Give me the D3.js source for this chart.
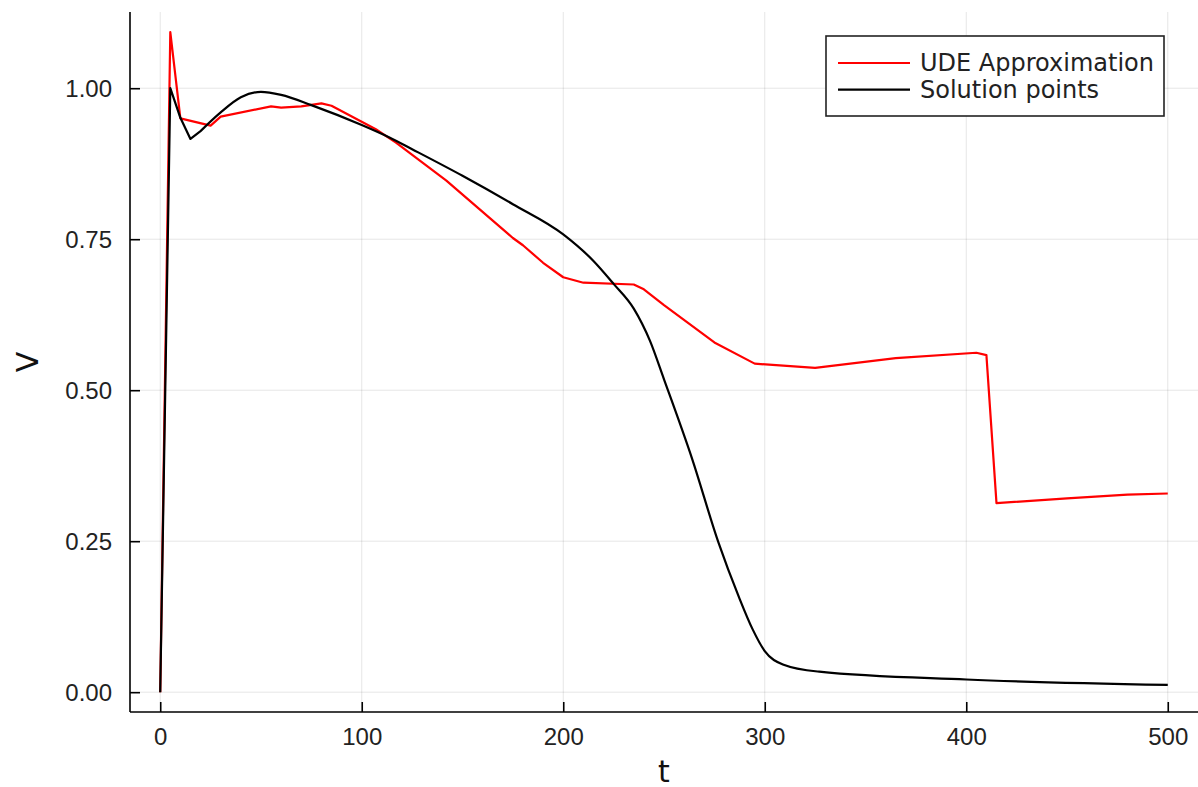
<!DOCTYPE html>
<html>
<head>
<meta charset="utf-8">
<script src="https://cdn.jsdelivr.net/npm/d3@7"></script>
<style>
  body { margin: 0; background: #fff; }
  svg { display: block; font-family: "DejaVu Sans", sans-serif; }
</style>
</head>
<body>
<svg id="chart" width="1198" height="787"></svg>
<script>
// UDE approximation (red)
var udeT = [0, 5, 10, 25, 30, 55, 60, 70, 80, 85, 107, 117, 142, 175, 180, 190, 200, 210, 235, 240, 250, 275, 295, 325, 365, 405, 410, 415, 450, 480, 500];
var udeV = [0, 1.093, 0.950, 0.938, 0.953, 0.970, 0.968, 0.970, 0.975, 0.971, 0.932, 0.910, 0.847, 0.752, 0.740, 0.711, 0.687, 0.678, 0.675, 0.667, 0.641, 0.579, 0.544, 0.537, 0.553, 0.562, 0.558, 0.313, 0.321, 0.327, 0.329];

// solution points (black)
var solT = [0, 5, 10, 15, 20, 30, 40, 50, 60, 75, 100, 114, 125, 150, 175, 200, 215, 225, 235, 243, 250, 264, 277, 287, 294, 300, 309, 327, 400, 500];
var solV = [0, 1.000, 0.951, 0.916, 0.929, 0.960, 0.985, 0.994, 0.989, 0.972, 0.939, 0.918, 0.899, 0.855, 0.808, 0.758, 0.714, 0.676, 0.635, 0.582, 0.518, 0.386, 0.248, 0.159, 0.104, 0.068, 0.046, 0.034, 0.021, 0.012];

var xTicks = [0, 100, 200, 300, 400, 500];
var yTicks = [0, 0.25, 0.5, 0.75, 1.0];
var seriesNames = ["UDE Approximation", "Solution points"];
var seriesColors = ["#ff0000", "#000000"];

function main() {
    var svg = d3.select("#chart");
    var left = 130, right = 1198, top = 12, bottom = 712;

    var x = d3.scaleLinear().domain([-15, 515]).range([left, right]);
    var y = d3.scaleLinear().domain([-0.0328, 1.1262]).range([bottom, top]);

    // grid lines
    var grid = svg.append("g");
    grid.selectAll(".gx").data(xTicks).enter().append("line")
        .attr("x1", function(d) { return x(d); })
        .attr("x2", function(d) { return x(d); })
        .attr("y1", top).attr("y2", bottom)
        .attr("stroke", "#000").attr("stroke-opacity", 0.1).attr("stroke-width", 1);
    grid.selectAll(".gy").data(yTicks).enter().append("line")
        .attr("y1", function(d) { return y(d); })
        .attr("y2", function(d) { return y(d); })
        .attr("x1", left).attr("x2", right)
        .attr("stroke", "#000").attr("stroke-opacity", 0.1).attr("stroke-width", 1);

    // axes: ticks point inward
    var xAxis = svg.append("g")
        .attr("transform", "translate(0," + bottom + ")")
        .call(d3.axisTop(x).tickValues(xTicks).tickSize(10).tickFormat(d3.format("d")));
    xAxis.select(".domain").remove();
    xAxis.selectAll("line").attr("stroke", "#000").attr("stroke-width", 1.6);
    xAxis.selectAll("text").remove();
    xAxis.selectAll(".tick").append("text")
        .attr("y", 25).attr("dy", "0.35em")
        .attr("text-anchor", "middle")
        .attr("fill", "#222").attr("font-size", 24)
        .text(function(d) { return d; });

    var yAxis = svg.append("g")
        .attr("transform", "translate(" + left + ",0)")
        .call(d3.axisRight(y).tickValues(yTicks).tickSize(10).tickFormat(d3.format(".2f")));
    yAxis.select(".domain").remove();
    yAxis.selectAll("line").attr("stroke", "#000").attr("stroke-width", 1.6);
    yAxis.selectAll("text").remove();
    yAxis.selectAll(".tick").append("text")
        .attr("x", -18).attr("dy", "0.35em")
        .attr("text-anchor", "end")
        .attr("fill", "#222").attr("font-size", 24)
        .text(function(d) { return d3.format(".2f")(d); });

    // spines
    svg.append("line").attr("x1", left).attr("x2", right).attr("y1", bottom).attr("y2", bottom)
        .attr("stroke", "#000").attr("stroke-width", 1.6);
    svg.append("line").attr("x1", left).attr("x2", left).attr("y1", top).attr("y2", bottom)
        .attr("stroke", "#000").attr("stroke-width", 1.6);

    // axis labels
    svg.append("text")
        .attr("x", (left + right) / 2).attr("y", 771).attr("dy", "0.35em")
        .attr("text-anchor", "middle").attr("font-size", 30).attr("fill", "#111")
        .text("t");
    svg.append("text")
        .attr("transform", "translate(27," + ((top + bottom) / 2) + ") rotate(-90)")
        .attr("dy", "0.35em")
        .attr("text-anchor", "middle").attr("font-size", 30).attr("fill", "#111")
        .text("V");

    // lines
    var lineLin = d3.line()
        .x(function(d) { return x(d[0]); })
        .y(function(d) { return y(d[1]); });
    var lineSmooth = d3.line()
        .curve(d3.curveMonotoneX)
        .x(function(d) { return x(d[0]); })
        .y(function(d) { return y(d[1]); });
    var sol = d3.zip(solT, solV);
    svg.append("path")
        .datum(d3.zip(udeT, udeV))
        .attr("d", lineLin)
        .attr("fill", "none").attr("stroke", seriesColors[0])
        .attr("stroke-width", 2.2).attr("stroke-linejoin", "round");
    // black: sharp start (first five points), smooth after
    svg.append("path")
        .attr("d", lineLin(sol.slice(0, 5)) + lineSmooth(sol.slice(4)))
        .attr("fill", "none").attr("stroke", seriesColors[1])
        .attr("stroke-width", 2.2).attr("stroke-linejoin", "round");

    // legend
    var lg = svg.append("g");
    lg.append("rect")
        .attr("x", 826).attr("y", 36).attr("width", 338).attr("height", 80)
        .attr("fill", "#fff").attr("stroke", "#222").attr("stroke-width", 1.6);
    var items = lg.selectAll(".item").data(seriesNames).enter().append("g")
        .attr("transform", function(d, i) { return "translate(0," + (63 + i * 26.6) + ")"; });
    items.append("line")
        .attr("x1", 838).attr("x2", 910)
        .attr("stroke", function(d, i) { return seriesColors[i]; })
        .attr("stroke-width", 2.2);
    items.append("text")
        .attr("x", 920).attr("dy", "0.35em")
        .attr("font-size", 24).attr("fill", "#222")
        .text(function(d) { return d; });
}
main();
</script>
</body>
</html>
